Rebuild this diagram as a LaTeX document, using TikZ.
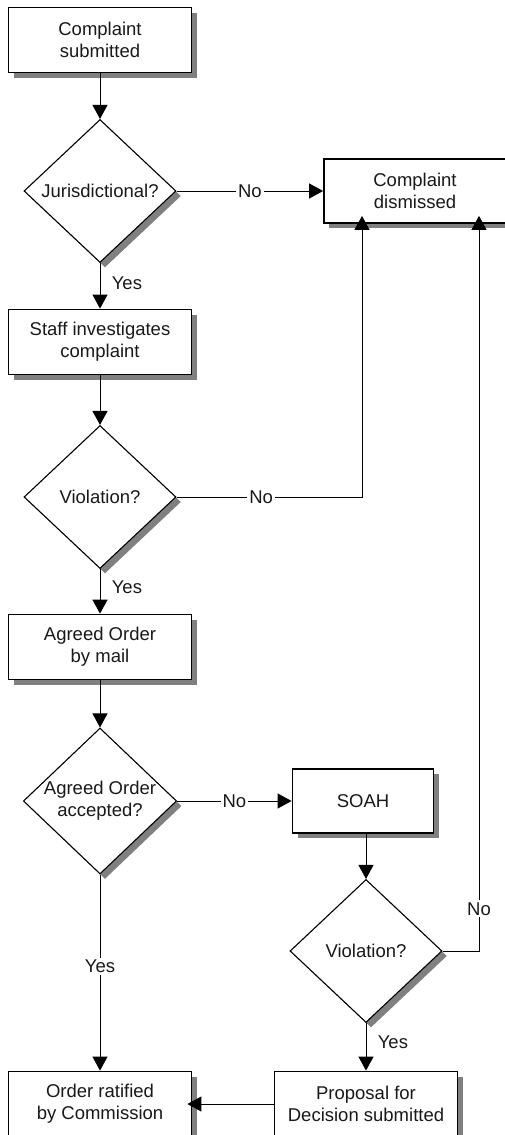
\documentclass[tikz,border=0pt]{standalone}
\usepackage{fontspec}
\setmainfont{Liberation Sans}
\usetikzlibrary{shapes.geometric,shadows,arrows.meta}

\begin{document}
\begin{tikzpicture}[x=1pt,y=-1pt]
% Define common styles
\tikzset{
    every node/.style={font=\fontsize{18.5pt}{22pt}\selectfont, text=black!90},
    boxshadow/.style={drop shadow={shadow xshift=5pt, shadow yshift=-5pt, fill=black!50, opacity=1}},
    stepbox/.style={draw, line width=1.8pt, fill=white, minimum width=183pt, minimum height=65pt, align=center, boxshadow},
    decision/.style={diamond, draw, line width=1.1pt, fill=white, minimum width=152pt, minimum height=143pt, inner sep=0pt, aspect=1.05, align=center, boxshadow},
    arrow/.style={-{Triangle[length=14pt,width=15pt]}, line width=1pt},
    answer/.style={fill=white, inner sep=2pt}
}
\useasboundingbox (0,0) rectangle (505,1135);

% Left column
\node[stepbox] (submitted) at (100,40) {Complaint\\submitted};
\node[decision] (jurisdictional) at (100,191) {Jurisdictional?};
\node[stepbox] (investigate) at (100,342) {Staff investigates\\complaint};
\node[decision] (violation) at (100,497) {Violation?};
\node[stepbox] (mailorder) at (100,647) {Agreed Order\\by mail};
\node[decision] (accepted) at (100,801) {Agreed Order\\accepted?};
\node[stepbox] (ratified) at (100,1104) {Order ratified\\by Commission};

% Right column
\node[stepbox, minimum width=182pt, minimum height=64pt] (dismissed) at (415,191) {Complaint\\dismissed};
\node[stepbox, minimum width=141pt, minimum height=64pt] (soah) at (363,801) {SOAH};
\node[decision] (violationb) at (366,951) {Violation?};
\node[stepbox] (proposal) at (366,1104) {Proposal for\\Decision submitted};

% Yes branches
\draw[arrow] (submitted) -- (jurisdictional);
\draw[arrow] (jurisdictional) -- node[pos=0.45, right=8pt] {Yes} (investigate);
\draw[arrow] (investigate) -- (violation);
\draw[arrow] (violation) -- node[pos=0.4, right=8pt] {Yes} (mailorder);
\draw[arrow] (mailorder) -- (accepted);
\draw[arrow] (accepted) -- node[answer, pos=0.47] {Yes} (ratified);
\draw[arrow] (violationb |- soah.south) -- (violationb);
\draw[arrow] (violationb) -- node[pos=0.4, right=8pt] {Yes} (proposal);
\draw[arrow, shorten >=-5pt] (proposal) -- (ratified);

% No branches
\draw[arrow] (jurisdictional) -- node[answer] {No} (dismissed);
\draw[arrow, shorten >=-8pt] (violation.east) -| node[answer, pos=0.228] {No} ([xshift=-53pt]dismissed.south);
\draw[arrow] (accepted) -- node[answer] {No} (soah);
\draw[arrow, shorten >=-8pt] (violationb.east) -| node[answer, pos=0.529] {No} ([xshift=64pt]dismissed.south);

\end{tikzpicture}
\end{document}
